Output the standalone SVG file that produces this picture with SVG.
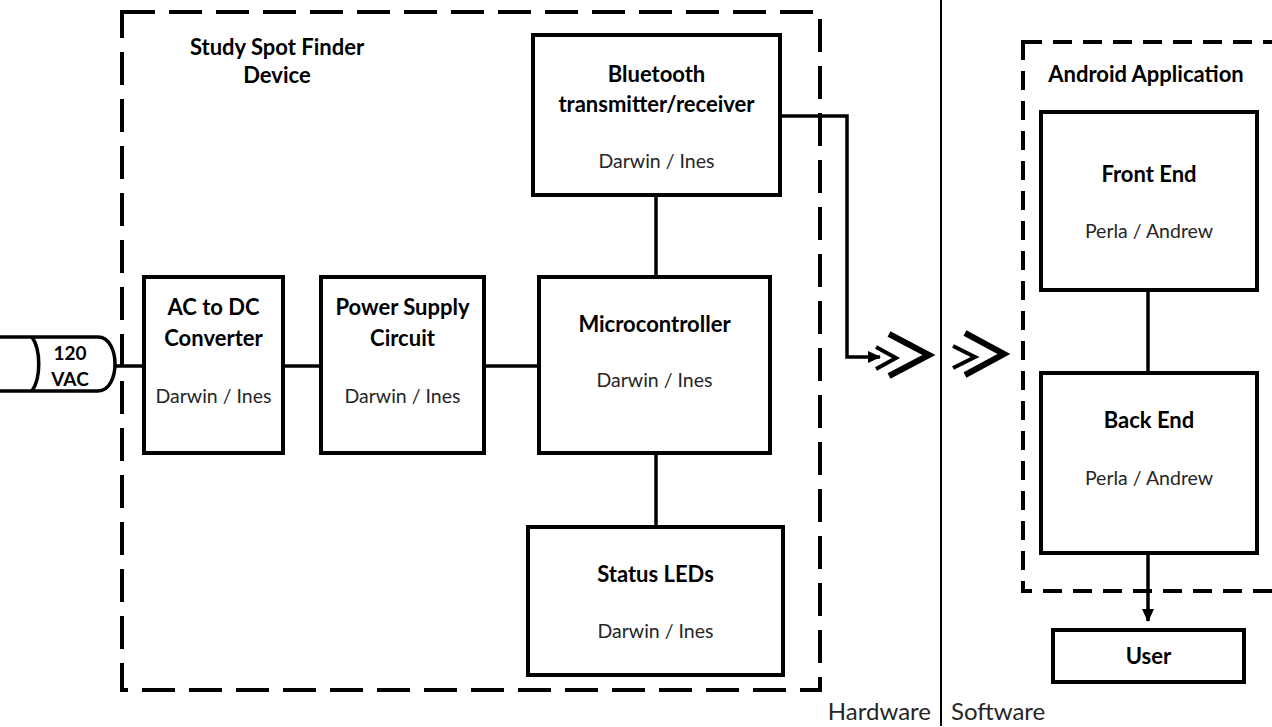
<svg xmlns="http://www.w3.org/2000/svg" width="1272" height="727" viewBox="0 0 1272 727">
<style>
.box{fill:#fff;stroke:#000;stroke-width:4}
.dash1{fill:none;stroke:#000;stroke-width:4;stroke-dasharray:33 14}
.dash2{fill:none;stroke:#000;stroke-width:4;stroke-dasharray:19 11}
.ln{fill:none;stroke:#000;stroke-width:3.5}
.t{font-family:Lato,"Open Sans",sans-serif;font-weight:bold;font-size:22px;fill:#000;text-anchor:middle}
.s{font-family:Lato,"Open Sans",sans-serif;font-size:19.5px;fill:#262626;text-anchor:middle}
.h{font-family:Lato,"Open Sans",sans-serif;font-size:24px;fill:#262626}
</style>
<defs>
<marker id="arr" markerUnits="userSpaceOnUse" markerWidth="14" markerHeight="14" refX="12" refY="7" orient="auto">
<path d="M0,1 L13,7 L0,13 Z" fill="#000"/>
</marker>
</defs>
<rect width="1272" height="727" fill="#fff"/>

<g id="hardware-group">
<rect class="dash1" x="122" y="12" width="698" height="678"/>
<text class="t" x="277" y="55">Study Spot Finder</text>
<text class="t" x="277" y="83">Device</text>
</g>

<g id="android-group">
<rect class="dash2" x="1023" y="42" width="300" height="549"/>
<text class="t" x="1146" y="82">Android Application</text>
</g>

<g id="divider">
<line x1="941" y1="0" x2="941" y2="726" stroke="#000" stroke-width="2"/>
<text class="h" x="931" y="720" text-anchor="end">Hardware</text>
<text class="h" x="951" y="720">Software</text>
</g>

<g id="connectors">
<line class="ln" x1="115" y1="366" x2="144" y2="366"/>
<line class="ln" x1="283" y1="366" x2="321" y2="366"/>
<line class="ln" x1="484" y1="366" x2="539" y2="366"/>
<line class="ln" x1="656" y1="196" x2="656" y2="277"/>
<line class="ln" x1="656" y1="453" x2="656" y2="527"/>
<line class="ln" x1="1148" y1="290" x2="1148" y2="373"/>
<polyline class="ln" points="780,116 847,116 847,357 880,357" marker-end="url(#arr)"/>
<line class="ln" x1="1148" y1="553" x2="1148" y2="621" marker-end="url(#arr)"/>
</g>

<g id="wireless">
<polyline points="876,347 896,358 876,369" fill="none" stroke="#000" stroke-width="4"/>
<polyline points="889,334 929,355 889,376" fill="none" stroke="#000" stroke-width="6"/>
<polyline points="953,346 975,357 953,368" fill="none" stroke="#000" stroke-width="4"/>
<polyline points="965,333 1004,354 965,375" fill="none" stroke="#000" stroke-width="6"/>
</g>

<g id="vac">
<path class="ln" d="M0,337 H98 C110,337 115,352 115,364 C115,376 110,391 98,391 H0"/>
<path class="ln" d="M32,337 C41,350 41,378 32,391"/>
<text class="t" x="70" y="360" style="font-size:19px">120</text>
<text class="t" x="70" y="386" style="font-size:19px">VAC</text>
</g>

<g id="acdc">
<rect class="box" x="144" y="277" width="139" height="176"/>
<text class="t" x="213.5" y="315">AC to DC</text>
<text class="t" x="213.5" y="346">Converter</text>
<text class="s" x="213.5" y="403">Darwin / Ines</text>
</g>

<g id="power">
<rect class="box" x="321" y="277" width="163" height="176"/>
<text class="t" x="402.5" y="315">Power Supply</text>
<text class="t" x="402.5" y="346">Circuit</text>
<text class="s" x="402.5" y="403">Darwin / Ines</text>
</g>

<g id="micro">
<rect class="box" x="539" y="277" width="231" height="176"/>
<text class="t" x="654.5" y="332">Microcontroller</text>
<text class="s" x="654.5" y="387">Darwin / Ines</text>
</g>

<g id="bluetooth">
<rect class="box" x="533" y="35" width="247" height="160"/>
<text class="t" x="656.5" y="82">Bluetooth</text>
<text class="t" x="656.5" y="112">transmitter/receiver</text>
<text class="s" x="656.5" y="168">Darwin / Ines</text>
</g>

<g id="leds">
<rect class="box" x="528" y="527" width="255" height="148"/>
<text class="t" x="655.5" y="582">Status LEDs</text>
<text class="s" x="655.5" y="638">Darwin / Ines</text>
</g>

<g id="frontend">
<rect class="box" x="1041" y="112" width="216" height="178"/>
<text class="t" x="1149" y="182">Front End</text>
<text class="s" x="1149" y="238">Perla / Andrew</text>
</g>

<g id="backend">
<rect class="box" x="1041" y="373" width="216" height="180"/>
<text class="t" x="1149" y="428">Back End</text>
<text class="s" x="1149" y="485">Perla / Andrew</text>
</g>

<g id="user">
<rect class="box" x="1053" y="630" width="191" height="52"/>
<text class="t" x="1148.5" y="664">User</text>
</g>
</svg>
